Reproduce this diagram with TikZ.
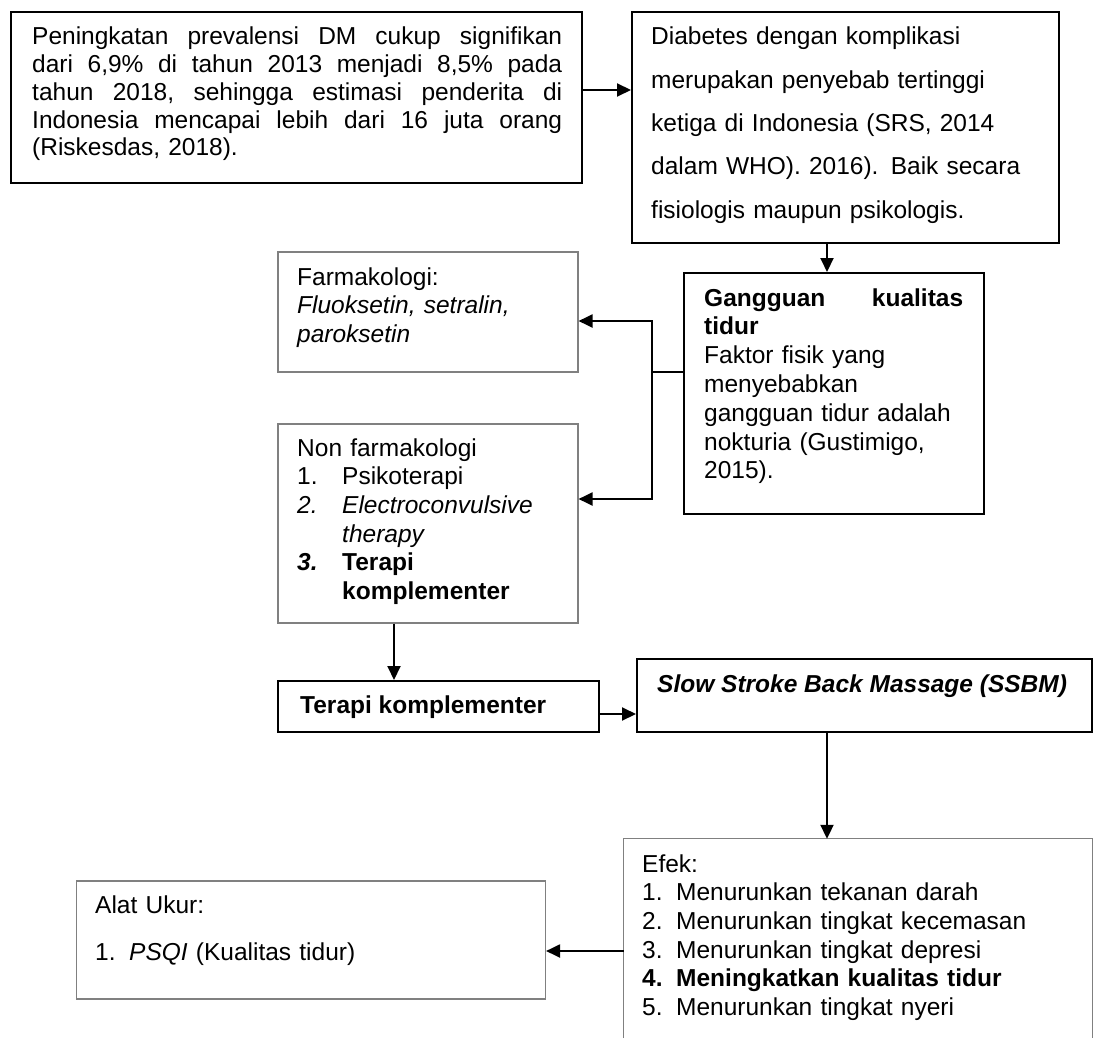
\documentclass[tikz,border=0pt]{standalone}
\usepackage{fontspec}
\setmainfont{Liberation Sans}
\usetikzlibrary{arrows.meta}
\tikzset{
  thickbox/.style={draw=black, line width=2pt, inner sep=0pt, rectangle},
  thinbox/.style={draw=black!50, line width=1.1pt, inner sep=0pt, rectangle},
  openbox/.style={inner sep=0pt, rectangle},
  conn/.style={draw=black, line width=2pt},
  arr/.style={conn, -{Triangle[length=14pt,width=13pt]}},
  txt/.style={anchor=base west, inner sep=0pt, align=left},
}
\newcommand{\fs}[1]{\fontsize{24.5}{#1}\selectfont}
\newcommand{\jl}[1]{\makebox[530pt]{#1}}
\begin{document}
\begin{tikzpicture}[x=1pt,y=-1pt]
\path[use as bounding box, fill=white] (0,0) rectangle (1094,1038);

% boxes
\node[thickbox, minimum width=571pt, minimum height=171pt] (b1) at (296.5,97.5) {};
\node[thickbox, minimum width=427pt, minimum height=231pt] (b2) at (845.5,127.5) {};
\node[thickbox, minimum width=300pt, minimum height=241pt] (gg) at (834,393.5) {};
\node[thinbox, minimum width=300pt, minimum height=120pt] (farm) at (428,312) {};
\node[thinbox, minimum width=300pt, minimum height=199pt] (nf) at (428,523.5) {};
\node[thickbox, minimum width=321pt, minimum height=51pt] (tk) at (438.5,706.5) {};
\node[thickbox, minimum width=455pt, minimum height=73pt] (ss) at (864.5,695.5) {};
\node[openbox, minimum width=468pt, minimum height=199pt] (ef) at (858,938.5) {};
\draw[draw=black!50, line width=1.1pt] (ef.south west) -- (ef.north west) -- (ef.north east) -- (ef.south east);
\node[thinbox, minimum width=469pt, minimum height=118pt] (al) at (311,940) {};

% texts
\node[txt, text width=535pt, font=\fs{27.7}] (t1) at (32,45) {%
\jl{Peningkatan\hfill\ prevalensi\hfill\ DM\hfill\ cukup\hfill\ signifikan}\\
\jl{dari\hfill\ 6,9\%\hfill\ di\hfill\ tahun\hfill\ 2013\hfill\ menjadi\hfill\ 8,5\%\hfill\ pada}\\
\jl{tahun\hfill\ 2018,\hfill\ sehingga\hfill\ estimasi\hfill\ penderita\hfill\ di}\\
\jl{Indonesia\hfill\ mencapai\hfill\ lebih\hfill\ dari\hfill\ 16\hfill\ juta\hfill\ orang}\\
(Riskesdas, 2018).};

\node[txt, text width=400pt, font=\fs{43.3}] (t2) at (651,45) {%
Diabetes dengan komplikasi\\
merupakan penyebab tertinggi\\
ketiga di Indonesia (SRS, 2014\\
dalam WHO). 2016). Baik secara\\
fisiologis maupun psikologis.};

\node[txt, text width=270pt, font=\fs{28.8}] (t3) at (704,306) {%
\makebox[259pt]{\textbf{Gangguan}\hfill\textbf{kualitas}}\\
\textbf{tidur}\\
Faktor fisik yang\\
menyebabkan\\
gangguan tidur adalah\\
nokturia (Gustimigo,\\
2015).};

\node[txt, text width=270pt, font=\fs{28.5}] (t4) at (297,285) {%
Farmakologi:\\
\textit{Fluoksetin, setralin,}\\
\textit{paroksetin}};

\node[txt, text width=275pt, font=\fs{28.7}] (t5) at (297,456) {%
Non farmakologi\\
\makebox[45pt][l]{1.}Psikoterapi\\
\makebox[45pt][l]{\textit{2.}}\textit{Electroconvulsive}\\
\hspace*{45pt}\textit{therapy}\\
\makebox[45pt][l]{\textbf{\textit{3.}}}\textbf{Terapi}\\
\hspace*{45pt}\textbf{komplementer}};

\node[txt, font=\fs{28}] (t6) at (300,713) {\textbf{Terapi komplementer}};

\node[txt, font=\fs{28}] (t7) at (657,692) {\textbf{\textit{Slow Stroke Back Massage (SSBM)}}};

\node[txt, text width=440pt, font=\fs{28.7}] (t8) at (642,872) {%
Efek:\\
\makebox[34pt][l]{1.}Menurunkan tekanan darah\\
\makebox[34pt][l]{2.}Menurunkan tingkat kecemasan\\
\makebox[34pt][l]{3.}Menurunkan tingkat depresi\\
\makebox[34pt][l]{\textbf{4.}}\textbf{Meningkatkan kualitas tidur}\\
\makebox[34pt][l]{5.}Menurunkan tingkat nyeri};

\node[txt, text width=440pt, font=\fs{47}] (t9) at (95,913) {%
Alat Ukur:\\
\makebox[34pt][l]{1.}\textit{PSQI} (Kualitas tidur)};

% connectors
\coordinate (c12) at ([yshift=7.5pt]b1.east);
\draw[arr] (c12) -- (c12 -| b2.west);

\coordinate (c2g) at ([xshift=-18.5pt]b2.south);
\draw[arr] (c2g) -- (c2g |- gg.north);

\coordinate (gj) at ([yshift=21.5pt]gg.west);
\coordinate (j) at (652,372);
\coordinate (fa) at ([yshift=-9pt]farm.east);
\coordinate (na) at ([yshift=24.5pt]nf.east);
\draw[conn] (gj) -- (j);
\draw[arr] (j) |- (fa);
\draw[arr] (j) |- (na);

\coordinate (cnt) at ([xshift=-34pt]nf.south);
\draw[arr] (cnt) -- (cnt |- tk.north);

\coordinate (cts) at ([yshift=-7.5pt]tk.east);
\draw[arr] (cts) -- (cts -| ss.west);

\coordinate (cse) at ([xshift=-37.5pt]ss.south);
\draw[arr] (cse) -- (cse |- ef.north);

\coordinate (cea) at ([yshift=-12.5pt]ef.west);
\draw[arr] (cea) -- (cea -| al.east);
\end{tikzpicture}
\end{document}
